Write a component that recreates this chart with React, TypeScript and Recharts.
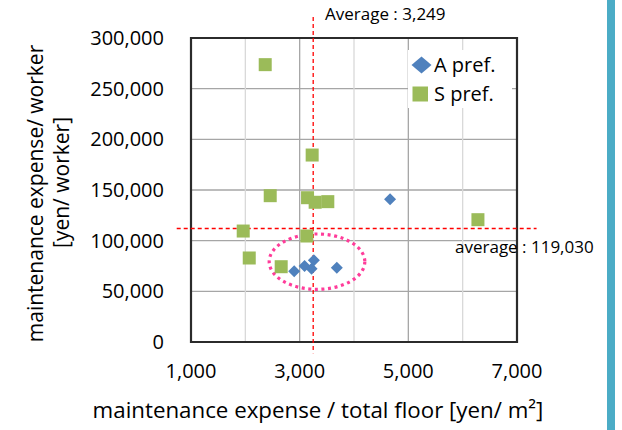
import React from 'react';
import {
  ScatterChart,
  Scatter,
  XAxis,
  YAxis,
  CartesianGrid,
  ReferenceLine,
  ReferenceArea,
  Legend,
} from 'recharts';

// ---- data ----
const aPref = [
  { x: 4664, y: 140800 },
  { x: 2899, y: 69800 },
  { x: 3090, y: 75000 },
  { x: 3219, y: 72300 },
  { x: 3261, y: 80600 },
  { x: 3684, y: 73300 },
];

const sPref = [
  { x: 2366, y: 273700 },
  { x: 3230, y: 184500 },
  { x: 2458, y: 144400 },
  { x: 3145, y: 142400 },
  { x: 3285, y: 137900 },
  { x: 3518, y: 138500 },
  { x: 6281, y: 120700 },
  { x: 1961, y: 109500 },
  { x: 3132, y: 104600 },
  { x: 2072, y: 82900 },
  { x: 2660, y: 74300 },
];

const xTicks = [1000, 3000, 5000, 7000];
const xMinorGrid = [2000, 4000, 6000];
const yTicks = [0, 50000, 100000, 150000, 200000, 250000, 300000];

const AVG_X = 3249;
const AVG_Y_LABEL = 119030;
const AVG_Y_LINE = 112000;
const vLineSpan = [320700, -11000];
const hLineSpan = [737, 7360];
const circled = { x1: 2439, x2: 4199, y1: 52000, y2: 106600 };

const FONT = "'Open Sans', sans-serif";
const fmt = (v: number) => v.toLocaleString('en-US');

const BLUE = '#4f81bd';
const GREEN = '#9bbb59';

const Diamond = (p: any) => {
  const { cx, cy } = p;
  const r = 6;
  return (
    <path
      d={`M${cx},${cy - r}L${cx + r},${cy}L${cx},${cy + r}L${cx - r},${cy}Z`}
      fill={BLUE}
    />
  );
};

const Square = (p: any) => {
  const { cx, cy } = p;
  const s = 13;
  return <rect x={cx - s / 2} y={cy - s / 2} width={s} height={s} fill={GREEN} />;
};

const EllipseShape = (p: any) => (
  <ellipse
    cx={p.x + p.width / 2}
    cy={p.y + p.height / 2}
    rx={Math.abs(p.width) / 2}
    ry={Math.abs(p.height) / 2}
    fill="none"
    stroke="#ff3c9a"
    strokeWidth={3.2}
    strokeDasharray="3 3.6"
  />
);

const LegendContent = (props: any) => {
  const payload = props.payload || [];
  return (
    <div
      style={{
        background: '#fff',
        fontFamily: FONT,
        fontSize: 20,
        lineHeight: '29px',
        color: '#000',
        paddingLeft: 3,
        width: 101,
      }}
    >
      {payload.map((e: any, i: number) => (
        <div key={i} style={{ display: 'flex', alignItems: 'center', height: 29 }}>
          <svg width={21} height={18} style={{ marginRight: 2 }}>
            {e.value === 'A pref.' ? (
              <path d="M10.5,0.5L20.5,9L10.5,17.5L0.5,9Z" fill={BLUE} />
            ) : (
              <rect x={1.5} y={1.5} width={15.5} height={15} fill={GREEN} />
            )}
          </svg>
          <span>{e.value}</span>
        </div>
      ))}
    </div>
  );
};

export default function App() {
  return (
    <div style={{ position: 'absolute', left: 0, top: 0, width: 622, height: 430, background: '#fff' }}>
      <ScatterChart width={622} height={430} margin={{ top: 38, right: 105, bottom: 0, left: 0 }}>
        <XAxis
          type="number"
          dataKey="x"
          domain={[1000, 7000]}
          ticks={xTicks}
          interval={0}
          height={88}
          tickLine={false}
          axisLine={false}
          tickSize={0}
          tickMargin={22}
          tickFormatter={fmt}
          tick={{ fill: '#000', fontSize: 20, fontFamily: FONT }}
          allowDataOverflow
        />
        <YAxis
          type="number"
          dataKey="y"
          domain={[0, 300000]}
          ticks={yTicks}
          interval={0}
          width={191}
          tickLine={false}
          axisLine={false}
          tickSize={0}
          tickMargin={27}
          tickFormatter={fmt}
          tick={{ fill: '#000', fontSize: 20, fontFamily: FONT }}
          allowDataOverflow
        />
        <CartesianGrid stroke="#a6a6a6" strokeWidth={1.3} />
        {xMinorGrid.map((v) => (
          <ReferenceLine key={v} x={v} stroke="#d9d9d9" strokeWidth={1.3} zIndex={-90} />
        ))}
        <ReferenceArea
          x1={1000}
          x2={7000}
          y1={0}
          y2={300000}
          fill="none"
          fillOpacity={0}
          stroke="#2b2b2b"
          strokeWidth={2.2}
          ifOverflow="visible"
        />
        <Legend
          layout="vertical"
          align="center"
          verticalAlign="middle"
          content={<LegendContent />}
          wrapperStyle={{ left: 408, top: 50, width: 104, height: 58, right: 'auto', bottom: 'auto' }}
        />
        <Scatter name="A pref." data={aPref} fill={BLUE} shape={Diamond} isAnimationActive={false} />
        <Scatter name="S pref." data={sPref} fill={GREEN} shape={Square} isAnimationActive={false} />
        <ReferenceArea
          x1={circled.x1}
          x2={circled.x2}
          y1={circled.y1}
          y2={circled.y2}
          shape={EllipseShape}
          ifOverflow="visible"
        />
        <ReferenceLine
          segment={[
            { x: AVG_X, y: vLineSpan[0] },
            { x: AVG_X, y: vLineSpan[1] },
          ]}
          stroke="#ff0000"
          strokeWidth={1.3}
          strokeDasharray="4 3"
          ifOverflow="visible"
        />
        <ReferenceLine
          segment={[
            { x: hLineSpan[0], y: AVG_Y_LINE },
            { x: hLineSpan[1], y: AVG_Y_LINE },
          ]}
          stroke="#ff0000"
          strokeWidth={1.3}
          strokeDasharray="4 3"
          ifOverflow="visible"
        />
      </ScatterChart>
      <svg
        width={622}
        height={430}
        style={{ position: 'absolute', left: 0, top: 0, pointerEvents: 'none' }}
      >
        <text x={325} y={20} fontFamily={FONT} fontSize={17} fill="#000">
          {`Average : ${fmt(AVG_X)}`}
        </text>
        <text x={455} y={253} fontFamily={FONT} fontSize={17} fill="#000">
          {`average : ${fmt(AVG_Y_LABEL)}`}
        </text>
        <text x={318} y={418} textAnchor="middle" fontFamily={FONT} fontSize={22.3} fill="#000">
          maintenance expense / total floor [yen/ m²]
        </text>
        <text
          transform="translate(43,193.5) rotate(-90)"
          textAnchor="middle"
          fontFamily={FONT}
          fontSize={21}
          fill="#000"
        >
          maintenance expense/ worker
        </text>
        <text
          transform="translate(69,182.5) rotate(-90)"
          textAnchor="middle"
          fontFamily={FONT}
          fontSize={21}
          fill="#000"
        >
          [yen/ worker]
        </text>
      </svg>
      <div style={{ position: 'absolute', left: 607, top: 0, width: 8, height: 430, background: '#4bacc6' }} />
    </div>
  );
}
